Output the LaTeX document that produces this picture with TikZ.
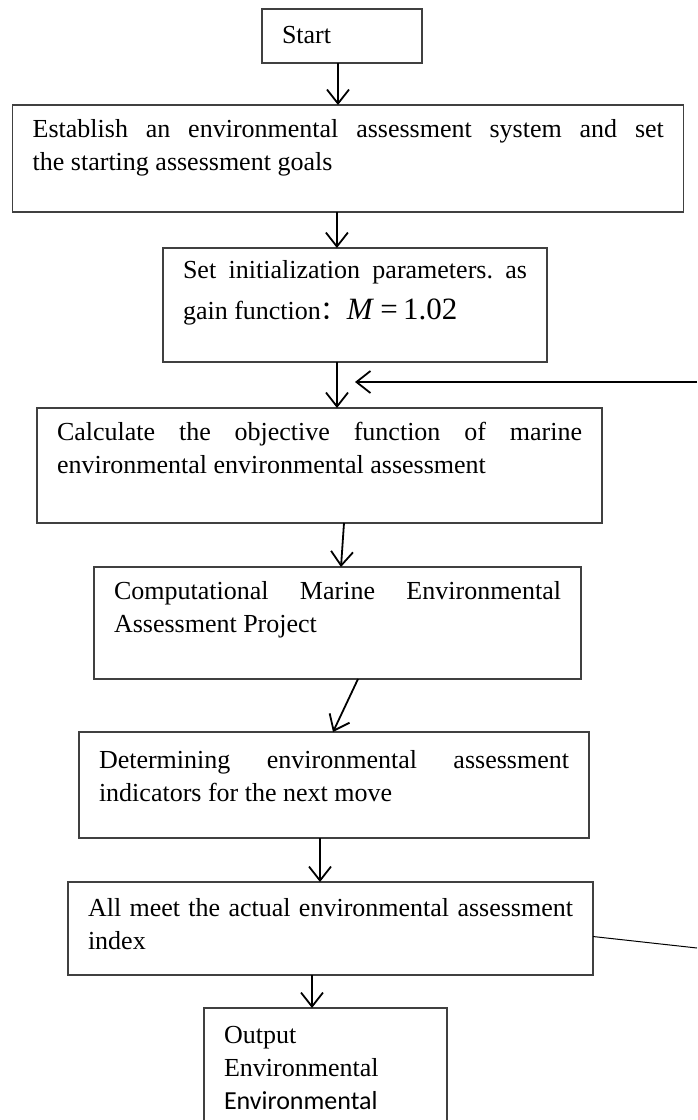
\documentclass[tikz,border=0pt]{standalone}
\usepackage{fontspec}
\setmainfont{Liberation Serif}
\newfontfamily\calibri{Carlito}
\newfontfamily\cjk{Noto Sans CJK SC}
\usetikzlibrary{arrows.meta}
\definecolor{boxline}{HTML}{404040}
\hyphenpenalty=10000
\frenchspacing
\tikzset{
  flowbox/.style={draw=boxline,line width=0.55pt,anchor=north west,outer sep=0pt,inner xsep=10pt,inner ysep=0pt,text height=16pt,align=justify},
  flowarrow/.style={line width=0.9pt,-{Straight Barb[length=7pt,width=11pt,line width=0.9pt]}},
}
\begin{document}
\begin{tikzpicture}[x=0.5pt,y=-0.5pt,font=\fontsize{13}{16.5}\selectfont]
  \useasboundingbox (0,0) rectangle (697,1120);
  \clip (0,0) rectangle (697,1120);
  \node[flowbox,align=left,text width=60pt,text height=17pt,text depth=10pt] (start) at (262,9) {Start};
  \node[flowbox,text width=315.6pt,text depth=37.5pt] (goal) at (12.7,105) {Establish an environmental assessment system and set\linebreak the starting assessment goals};
  \node[flowbox,text width=172pt,text height=15pt,text depth=42pt] (init) at (163,248) {Set initialization parameters. as\linebreak \rule{0pt}{17pt}gain function{\cjk ：}{\fontsize{15.5}{16}\selectfont\itshape M\upshape~=\,1.02}};
  \node[flowbox,text width=262.5pt,text depth=41.5pt] (objf) at (37,408) {Calculate the objective function of marine\linebreak environmental environmental assessment};
  \node[flowbox,text width=223.5pt,text depth=40pt] (proj) at (94,567) {Computational Marine Environmental\linebreak Assessment Project};
  \node[flowbox,text width=235pt,text height=18pt,text depth=35pt] (next) at (79,732) {Determining environmental assessment\linebreak indicators for the next move};
  \node[flowbox,text width=242.5pt,text height=17pt,text depth=29.5pt] (meet) at (68,882) {All meet the actual environmental assessment\linebreak index};
  \node[flowbox,align=left,text width=101.5pt,text height=17.5pt,text depth=60pt] (output) at (204,1008) {Output\\Environmental\\{\calibri Environmental}};
  \coordinate (loopup) at (697,382);
  \coordinate (looptip) at (355,382);
  \coordinate (loopdown) at (697,948);
  \draw[flowarrow] ([xshift=-2pt]start.south) -- ([xshift=-2pt]start.south |- goal.north);
  \draw[flowarrow] ([xshift=-5.7pt]goal.south) -- ([xshift=-5.7pt]goal.south |- init.north);
  \draw[flowarrow] ([xshift=-9pt]init.south) -- ([xshift=8.75pt]objf.north);
  \draw[flowarrow] (loopup) -- (looptip);
  \draw[flowarrow] ([xshift=12.25pt]objf.south) -- ([xshift=1.75pt]proj.north);
  \draw[flowarrow] ([xshift=10.25pt]proj.south) -- ([xshift=-0.5pt]next.north);
  \draw[flowarrow] ([xshift=-7pt]next.south) -- ([xshift=-5.25pt]meet.north);
  \draw[flowarrow] ([xshift=-9.25pt]meet.south) -- ([xshift=-6.75pt]output.north);
  \draw[line width=0.5pt] ([yshift=-4pt]meet.east) -- (loopdown);
\end{tikzpicture}
\end{document}
